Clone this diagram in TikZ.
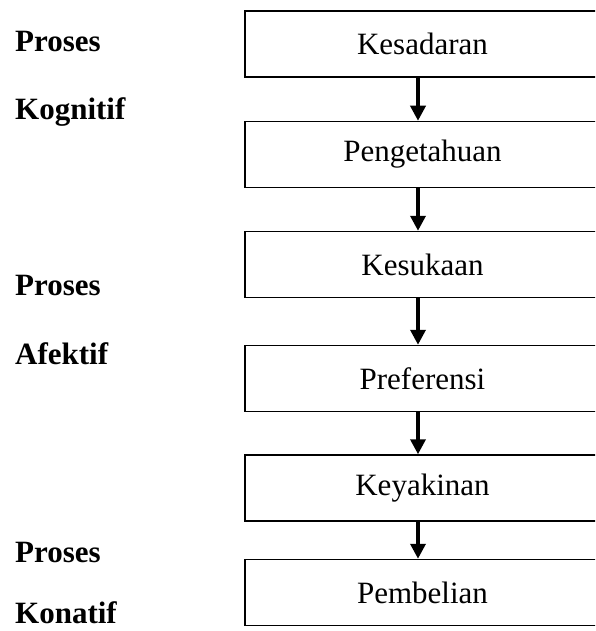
\documentclass[tikz,border=0pt]{standalone}
\usepackage{fontspec}
\setmainfont{Liberation Serif}
\usepackage{tikz}
\usetikzlibrary{arrows.meta}

\begin{document}
\begin{tikzpicture}[x=1pt, y=-1pt,
    tahap/.style={draw, rectangle, line width=1.5pt, minimum width=355pt, minimum height=66pt,
        inner sep=0pt, font=\fontsize{31}{37}\selectfont},
    proses/.style={anchor=base west, inner sep=0pt, font=\fontsize{31}{37}\selectfont\bfseries},
    panah/.style={-{Triangle[length=15pt, width=15pt]}, line width=3.5pt}]
    \useasboundingbox (0, 0) rectangle (595, 631);
    \clip (0, 0) rectangle (595, 631);

    \node[tahap] at (422.5, 44) (sadar) {Kesadaran};
    \node[tahap] at (422.5, 154.5) (tahu) {Pengetahuan};
    \node[tahap] at (422.5, 264.5) (suka) {Kesukaan};
    \node[tahap] at (422.5, 378.5) (pref) {Preferensi};
    \node[tahap] at (422.5, 488) (yakin) {Keyakinan};
    \node[tahap] at (422.5, 592.5) (beli) {Pembelian};

    \node[proses] at (15, 52) (p1) {Proses};
    \node[proses] at (15, 120) (kog) {Kognitif};
    \node[proses] at (15, 295) (p2) {Proses};
    \node[proses] at (15, 364) (afe) {Afektif};
    \node[proses] at (15, 562) (p3) {Proses};
    \node[proses] at (15, 623) (kon) {Konatif};

    \draw[panah] (sadar.south -| 418, 0) -- (tahu.north -| 418, 0);
    \draw[panah] (tahu.south -| 418, 0) -- (suka.north -| 418, 0);
    \draw[panah] (suka.south -| 418, 0) -- (pref.north -| 418, 0);
    \draw[panah] (pref.south -| 418, 0) -- (yakin.north -| 418, 0);
    \draw[panah] (yakin.south -| 418, 0) -- (beli.north -| 418, 0);
\end{tikzpicture}
\end{document}
